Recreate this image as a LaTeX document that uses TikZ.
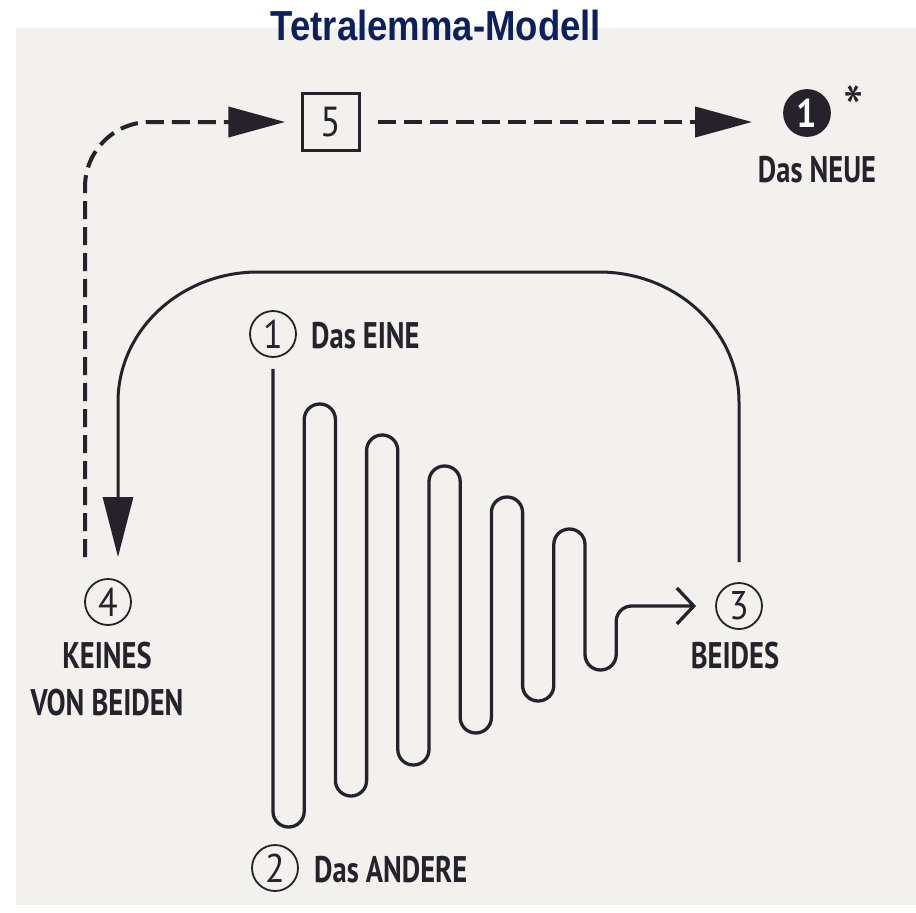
\documentclass[tikz,border=0pt]{standalone}
\usepackage{fontspec}
\setmainfont{PT Sans}[FakeStretch=0.77]
\newfontfamily\titlefont{Liberation Sans}[FakeStretch=0.87]
\newfontfamily\digitfont{PT Sans}[FakeStretch=0.9]
\usetikzlibrary{arrows.meta,calc}
\definecolor{ink}{HTML}{26222B}
\definecolor{paper}{HTML}{F3F1EE}
\definecolor{navy}{HTML}{0C2060}

\begin{document}
\begin{tikzpicture}[x=1pt,y=-1pt,
  lbl/.style={font=\bfseries\fontsize{37}{42}\selectfont, text=ink, inner sep=0pt},
  num/.style={circle, draw=ink, line width=1.8pt, minimum size=46pt, inner sep=0pt,
    font=\digitfont\fontsize{40}{40}\selectfont, text=ink},
  numfilled/.style={num, fill=ink, text=white, font=\digitfont\bfseries\fontsize{40}{40}\selectfont},
  numbox/.style={draw=ink, line width=2.5pt, minimum size=57pt, inner sep=0pt,
    font=\digitfont\fontsize{42}{42}\selectfont, text=ink},
  zig/.style={draw=ink, line width=3.3pt, rounded corners=15.5pt,
    -{Straight Barb[length=17pt,width=36pt]}},
  bigarrow/.style={draw=ink, line width=3pt, -{Triangle[length=60pt,width=30pt]}},
  dasharrow/.style={draw=ink, line width=4pt, dash pattern=on 18pt off 8pt,
    -{Triangle[length=57pt,width=30pt]}}
]
% page and scanned paper area
\useasboundingbox (0,0) rectangle (916,913);
\fill[white] (0,0) rectangle (916,913);
\fill[paper] (16,28) rectangle (916,905);

% title
\node[anchor=base, text=navy, inner sep=0pt,
  font=\titlefont\bfseries\fontsize{42}{48}\selectfont] (title) at (436,40) {Tetralemma-Modell};

% positions of the tetralemma
\node[num] (c1) at (273,334) {1};
\node[lbl, anchor=base west] (eine) at (311,348) {Das EINE};
\node[num] (c2) at (275,868) {2};
\node[lbl, anchor=base west] (andere) at (314,882) {Das ANDERE};
\node[num] (c3) at (739,606) {3};
\node[lbl, anchor=base] (beides) at (735,668) {BEIDES};
\node[num] (c4) at (108,602) {4};
\node[lbl, anchor=base] (keines) at (107,668) {KEINES};
\node[lbl, anchor=base] (vonbeiden) at (107,715) {VON BEIDEN};

% fifth position and the new one
\node[numbox] (b5) at (331,122) {5};
\node[numfilled] (cn) at (807,113) {1};
\node[anchor=base, inner sep=0pt, text=ink, font=\digitfont\fontsize{64}{64}\selectfont] (star) at (854,131) {*};
\node[lbl, anchor=base] (neue) at (817,182) {Das NEUE};

% oscillation between the one and the other, leading to both
\draw[zig] ([yshift=-11pt]c1.south) -- (273,827) -- (304.2,827) -- (304.2,404)
  -- (335.4,404) -- (335.4,796) -- (366.6,796) -- (366.6,435)
  -- (397.8,435) -- (397.8,765) -- (429,765) -- (429,466)
  -- (460.2,466) -- (460.2,733) -- (491.4,733) -- (491.4,497)
  -- (522.6,497) -- (522.6,701) -- (553.8,701) -- (553.8,529)
  -- (585,529) -- (585,670) -- (616.2,670) -- (616.2,606)
  -- ([xshift=-19pt]c3.west);

% from both to neither
\draw[bigarrow] ([yshift=20pt]c3.north) -- (739,402)
  arc[start angle=0, end angle=-90, x radius=140, y radius=130]
  -- (258,272)
  arc[start angle=-90, end angle=-180, x radius=140, y radius=130]
  -- ($(c4.north)+(10,-21)$);

% from neither to the fifth position and on to the new one
\draw[dasharrow, shorten >=16pt] ($(c4.north)+(-23,-21)$) -- (85,187)
  arc[start angle=180, end angle=270, radius=65] -- (b5.west);
\draw[dasharrow, shorten <=17pt, shorten >=31pt] (b5.east) -- (b5.east -| cn.west);
\end{tikzpicture}
\end{document}
